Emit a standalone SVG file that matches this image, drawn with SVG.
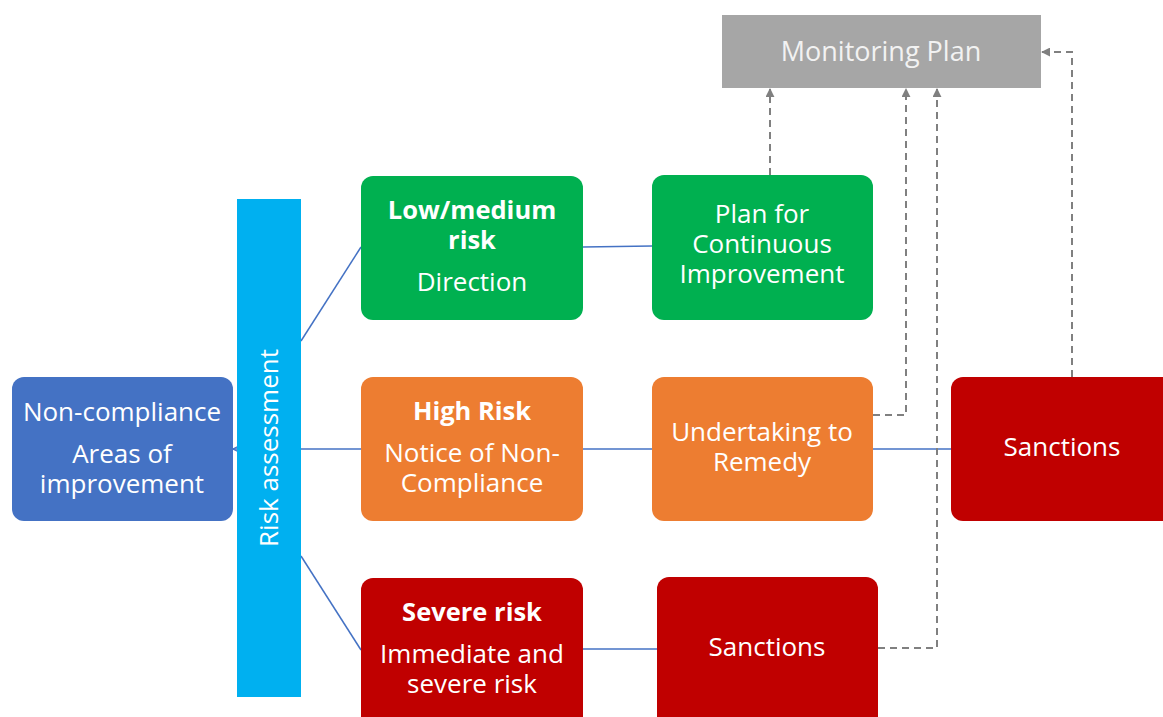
<svg xmlns="http://www.w3.org/2000/svg" width="1163" height="717" viewBox="0 0 1163 717">
<defs>
<marker id="ah" viewBox="0 0 10 10" refX="9" refY="5" markerWidth="9" markerHeight="9" orient="auto" markerUnits="userSpaceOnUse">
<path d="M0,0 L10,5 L0,10 z" fill="#808080"/>
</marker>
<marker id="ah2" viewBox="0 0 10 10" refX="10" refY="5" markerWidth="8" markerHeight="8" orient="auto" markerUnits="userSpaceOnUse">
<path d="M0,0 L10,5 L0,10" fill="none" stroke="#4472c4" stroke-width="1.5"/>
</marker>
<style>
text{font-family:"Open Sans","Noto Sans","Liberation Sans",sans-serif;fill:#ffffff;text-anchor:middle;font-size:26px}
.b{font-weight:bold;font-size:25.5px}
.ln{stroke:#4472c4;stroke-width:1.5;fill:none}
.dash{stroke:#808080;stroke-width:2;stroke-dasharray:7,5;fill:none}
</style>
</defs>
<rect width="1163" height="717" fill="#ffffff"/>
<g id="connectors">
<line class="ln" x1="237" y1="449" x2="233" y2="449" marker-end="url(#ah2)"/>
<line class="ln" x1="301" y1="341" x2="361" y2="247"/>
<line class="ln" x1="301" y1="449" x2="361" y2="449"/>
<line class="ln" x1="301" y1="556" x2="361" y2="650"/>
<line class="ln" x1="583" y1="247" x2="652" y2="246"/>
<line class="ln" x1="583" y1="449" x2="652" y2="449"/>
<line class="ln" x1="873" y1="449" x2="951" y2="449"/>
<line class="ln" x1="583" y1="649" x2="657" y2="649"/>
<polyline class="dash" points="770,175 770,89" marker-end="url(#ah)"/>
<polyline class="dash" points="873,415 906,415 906,89" marker-end="url(#ah)"/>
<polyline class="dash" points="878,648 937,648 937,89" marker-end="url(#ah)"/>
<polyline class="dash" points="1072,377 1072,52 1042,52" marker-end="url(#ah)"/>
</g>
<g id="monitoring">
<rect x="722" y="15" width="319" height="73" fill="#a6a6a6"/>
<text x="881" y="61" style="fill:#f2f2f2;font-size:27px">Monitoring Plan</text>
</g>
<g id="risk-assessment">
<rect x="237" y="199" width="64" height="498" fill="#00b0f0"/>
<text transform="translate(278,448) rotate(-90)">Risk assessment</text>
</g>
<g id="non-compliance">
<rect x="12" y="377" width="221" height="144" rx="12" fill="#4472c4"/>
<text x="122" y="421">Non-compliance</text>
<text x="122" y="463">Areas of</text>
<text x="122" y="493">improvement</text>
</g>
<g id="low-medium">
<rect x="361" y="176" width="222" height="144" rx="12" fill="#00b050"/>
<text x="472" y="219" class="b">Low/medium</text>
<text x="472" y="249" class="b">risk</text>
<text x="472" y="291">Direction</text>
</g>
<g id="plan-ci">
<rect x="652" y="175" width="221" height="145" rx="12" fill="#00b050"/>
<text x="762" y="223">Plan for</text>
<text x="762" y="253">Continuous</text>
<text x="762" y="283">Improvement</text>
</g>
<g id="high-risk">
<rect x="361" y="377" width="222" height="144" rx="12" fill="#ed7d31"/>
<text x="472" y="420" class="b">High Risk</text>
<text x="472" y="462">Notice of Non-</text>
<text x="472" y="492">Compliance</text>
</g>
<g id="undertaking">
<rect x="652" y="377" width="221" height="144" rx="12" fill="#ed7d31"/>
<text x="762" y="441">Undertaking to</text>
<text x="762" y="471">Remedy</text>
</g>
<g id="sanctions-right">
<rect x="951" y="377" width="230" height="144" rx="12" fill="#c00000"/>
<text x="1062" y="456">Sanctions</text>
</g>
<g id="severe">
<rect x="361" y="578" width="222" height="160" rx="12" fill="#c00000"/>
<text x="472" y="621" class="b">Severe risk</text>
<text x="472" y="663">Immediate and</text>
<text x="472" y="693">severe risk</text>
</g>
<g id="sanctions-bottom">
<rect x="657" y="577" width="221" height="160" rx="12" fill="#c00000"/>
<text x="767" y="656">Sanctions</text>
</g>
</svg>
